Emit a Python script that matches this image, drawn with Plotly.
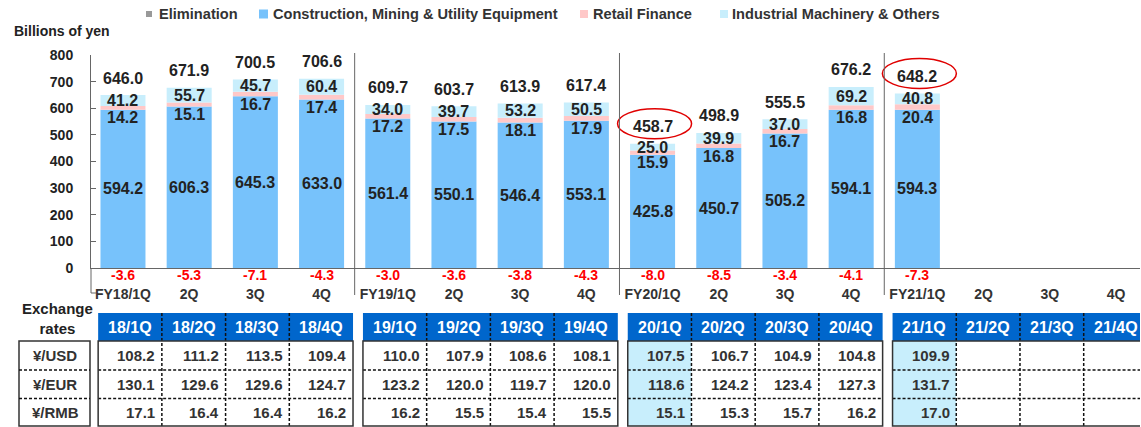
import plotly.graph_objects as go

# ---------------- data ----------------
categories = ["FY18/1Q", "2Q", "3Q", "4Q", "FY19/1Q", "2Q", "3Q", "4Q",
              "FY20/1Q", "2Q", "3Q", "4Q", "FY21/1Q", "2Q", "3Q", "4Q"]
construction = [594.2, 606.3, 645.3, 633.0, 561.4, 550.1, 546.4, 553.1,
                425.8, 450.7, 505.2, 594.1, 594.3, None, None, None]
retail = [14.2, 15.1, 16.7, 17.4, 17.2, 17.5, 18.1, 17.9,
          15.9, 16.8, 16.7, 16.8, 20.4, None, None, None]
industrial = [41.2, 55.7, 45.7, 60.4, 34.0, 39.7, 53.2, 50.5,
              25.0, 39.9, 37.0, 69.2, 40.8, None, None, None]
elimination = [-3.6, -5.3, -7.1, -4.3, -3.0, -3.6, -3.8, -4.3,
               -8.0, -8.5, -3.4, -4.1, -7.3, None, None, None]
totals = [646.0, 671.9, 700.5, 706.6, 609.7, 603.7, 613.9, 617.4,
          458.7, 498.9, 555.5, 676.2, 648.2, None, None, None]

periods = ["18/1Q", "18/2Q", "18/3Q", "18/4Q", "19/1Q", "19/2Q", "19/3Q", "19/4Q",
           "20/1Q", "20/2Q", "20/3Q", "20/4Q", "21/1Q", "21/2Q", "21/3Q", "21/4Q"]
usd = [108.2, 111.2, 113.5, 109.4, 110.0, 107.9, 108.6, 108.1,
       107.5, 106.7, 104.9, 104.8, 109.9, None, None, None]
eur = [130.1, 129.6, 129.6, 124.7, 123.2, 120.0, 119.7, 120.0,
       118.6, 124.2, 123.4, 127.3, 131.7, None, None, None]
rmb = [17.1, 16.4, 16.4, 16.2, 16.2, 15.5, 15.4, 15.5,
       15.1, 15.3, 15.7, 16.2, 17.0, None, None, None]
rate_labels = ["¥/USD", "¥/EUR", "¥/RMB"]
highlighted = [8, 12]

# ---------------- styling ----------------
FONT = "Liberation Sans, Arial, sans-serif"
DARK = "#222222"
C_CONS = "#77C2FB"
C_RET = "#FFC8C8"
C_IND = "#C8EEFC"
C_ELIM = "#999999"
C_HEAD = "#0066CC"
C_AXIS = "#666666"

W, H = 1141, 427
L, R, T, B = 91, 1, 55, 159
PW, PH = W - L - R, H - T - B


def px(xp):
    return (xp - L) / PW


def py(yp):
    return (H - B - yp) / PH


x = list(range(len(categories)))

fig = go.Figure()
fig.add_bar(x=x, y=construction, name="Construction, Mining & Utility Equipment",
            marker_color=C_CONS)
fig.add_bar(x=x, y=retail, name="Retail Finance", marker_color=C_RET)
fig.add_bar(x=x, y=industrial, name="Industrial Machinery & Others", marker_color=C_IND)
fig.add_bar(x=x, y=elimination, name="Elimination", marker_color=C_ELIM)
fig.update_traces(width=0.68, marker_line_width=0, showlegend=False)

ann = []
shapes = []


def label(xv, yv, text, size=16, color=DARK, yshift=0, bold=True, **kw):
    d = dict(x=xv, y=yv, text=f"<b>{text}</b>" if bold else text, showarrow=False,
             font=dict(size=size, color=color, family=FONT), yshift=yshift,
             xanchor="center", yanchor="middle")
    d.update(kw)
    ann.append(d)


# bar labels
for i in x:
    c, r, ind, e, t = construction[i], retail[i], industrial[i], elimination[i], totals[i]
    if c is None:
        continue
    label(i, c / 2, f"{c:.1f}")
    label(i, c, f"{r:.1f}", yshift=-8)
    label(i, c + r + ind / 2, f"{ind:.1f}")
    label(i, c + r + ind, f"{t:.1f}", yshift=17)
    label(i, 0, f"{e:.1f}", size=14, color="#FF0000", yshift=-7)

# red ellipses around highlighted totals
for i in highlighted:
    top = construction[i] + retail[i] + industrial[i]
    shapes.append(dict(type="circle", xref="x", yref="y", xsizemode="pixel",
                       ysizemode="pixel", xanchor=i, yanchor=top,
                       x0=-35, x1=39, y0=5, y1=35,
                       line=dict(color="#E00000", width=1.5)))

# fiscal year separators & axis extension
for s in [3.5, 7.5, 11.5]:
    shapes.append(dict(type="line", xref="x", yref="paper", x0=s, x1=s,
                       y0=py(295), y1=py(53), line=dict(color=C_AXIS, width=1)))
shapes.append(dict(type="line", xref="paper", yref="paper", x0=0, x1=0,
                   y0=py(293), y1=0, line=dict(color=C_AXIS, width=1)))
shapes.append(dict(type="line", xref="paper", yref="paper", x0=0, x1=px(96),
                   y0=py(293), y1=py(293), line=dict(color=C_AXIS, width=1)))

# ---------------- exchange-rate table ----------------
HT, HB = 313, 341
rows_y = [341, 370, 398.5, 426]
CW = 0.9625
border = dict(color="#333333", width=1.5)
dash = dict(color="#111111", width=1.5, dash="3px,2px")

for g in range(4):
    gl = 4 * g - 0.375
    gr = gl + 4 * CW
    shapes.append(dict(type="rect", xref="x", yref="paper", x0=gl, x1=gr,
                       y0=py(HB), y1=py(HT), fillcolor=C_HEAD, line_width=0))
    for i in range(4 * g, 4 * g + 4):
        if i in highlighted:
            cl = gl + CW * (i - 4 * g)
            shapes.append(dict(type="rect", xref="x", yref="paper", x0=cl, x1=cl + CW,
                               y0=py(rows_y[-1]), y1=py(rows_y[0]),
                               fillcolor=C_IND, line_width=0))
    for yy in rows_y[1:-1]:
        shapes.append(dict(type="line", xref="x", yref="paper", x0=gl, x1=gr,
                           y0=py(yy), y1=py(yy), line=dash))
    for j in range(1, 4):
        xv = gl + CW * j
        shapes.append(dict(type="line", xref="x", yref="paper", x0=xv, x1=xv,
                           y0=py(rows_y[-1]), y1=py(HT - 1), line=dash))
    shapes.append(dict(type="rect", xref="x", yref="paper", x0=gl, x1=gr,
                       y0=py(rows_y[-1]), y1=py(rows_y[0]), line=border))

for i in x:
    g, j = divmod(i, 4)
    cl = 4 * g - 0.375 + CW * j
    cr = cl + CW
    label((cl + cr) / 2, py((HT + HB) / 2), periods[i], color="white",
          xref="x", yref="paper")
    for k, series in enumerate([usd, eur, rmb]):
        v = series[i]
        if v is None:
            continue
        label(cr - 0.07, py((rows_y[k] + rows_y[k + 1]) / 2), f"{v:.1f}",
              size=15, color="#333333", xref="x", yref="paper", xanchor="right")

# row-label box
shapes.append(dict(type="rect", xref="paper", yref="paper", x0=px(19), x1=px(90),
                   y0=py(rows_y[-1]), y1=py(rows_y[0]), line=border))
for yy in rows_y[1:-1]:
    shapes.append(dict(type="line", xref="paper", yref="paper", x0=px(19), x1=px(90),
                       y0=py(yy), y1=py(yy), line=dash))
for k, t in enumerate(rate_labels):
    label(px(55), py((rows_y[k] + rows_y[k + 1]) / 2), t, size=15, color="#333333",
          xref="paper", yref="paper")
label(px(57), py(318), "Exchange<br>rates", size=15, color=DARK,
      xref="paper", yref="paper")

# titles / legend
label(px(12), py(31), "Billions of yen", size=14, color=DARK,
      xref="paper", yref="paper", xanchor="left")
legend_items = [("Elimination", C_ELIM, 146, 6, 157),
                ("Construction, Mining & Utility Equipment", C_CONS, 259, 9, 271),
                ("Retail Finance", C_RET, 580, 8, 591),
                ("Industrial Machinery & Others", C_IND, 720, 8, 730)]
for name, col, sx, sz, tx in legend_items:
    shapes.append(dict(type="rect", xref="paper", yref="paper", x0=px(sx), x1=px(sx + sz),
                       y0=py(14 + sz / 2), y1=py(14 - sz / 2), fillcolor=col, line_width=0))
    label(px(tx), py(14), name, size=14.6, color="#333333",
          xref="paper", yref="paper", xanchor="left")

fig.update_layout(
    template="none",
    width=W, height=H, autosize=False,
    margin=dict(l=L, r=R, t=T, b=B, pad=0),
    barmode="relative", bargap=0.32,
    paper_bgcolor="white", plot_bgcolor="white",
    font=dict(family=FONT, color=DARK),
    showlegend=False,
    annotations=ann, shapes=shapes,
    xaxis=dict(range=[-0.483, 15.363], tickvals=x, ticktext=[f"<b>{c}</b>" for c in categories],
               tickfont=dict(size=14, color="#333333", family=FONT), showgrid=False,
               zeroline=False, showline=True, linecolor=C_AXIS, linewidth=1,
               ticks="", ticklabelstandoff=13, automargin=False, fixedrange=True),
    yaxis=dict(range=[0, 800], tickvals=list(range(0, 801, 100)),
               ticktext=[f"<b>{v}</b>" for v in range(0, 801, 100)],
               tickfont=dict(size=14, color=DARK, family=FONT), showgrid=False,
               zeroline=False, showline=True, linecolor=C_AXIS, linewidth=1,
               ticks="inside", ticklen=5, tickcolor=C_AXIS,
               ticklabelstandoff=14, automargin=False, fixedrange=True),
)

fig.write_html("out.html")
